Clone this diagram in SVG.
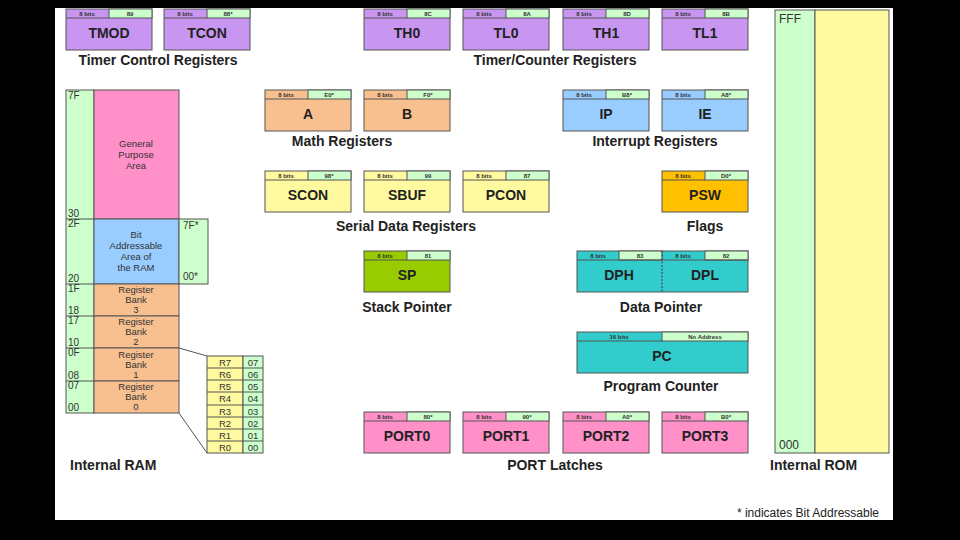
<svg xmlns="http://www.w3.org/2000/svg" width="960" height="540" viewBox="0 0 960 540">
<style>
text{font-family:"Liberation Sans",Arial,sans-serif}
.b{stroke:#555;stroke-width:1}
.h{font-size:6px;font-weight:bold;fill:#333;text-anchor:middle}
.n{font-size:14px;font-weight:bold;fill:#222;text-anchor:middle}
.l{font-size:14px;font-weight:bold;fill:#222;text-anchor:middle}
.s{font-size:10px;fill:#333}
.m{font-size:9.5px;fill:#333;text-anchor:middle}
.g{fill:#ccffcc}
.pu{fill:#c896f0}.or{fill:#f9c08f}.ye{fill:#fffaa0}.bl{fill:#99ccff}.go{fill:#ffc000}.sp{fill:#99cc00}.te{fill:#33cccc}.pk{fill:#ff90c8}
</style>
<defs>
<g id="reg"><rect class="b" x="0" y="9" width="86" height="32"/></g>
</defs>
<rect width="960" height="540" fill="#000"/>
<rect x="55" y="8" width="838" height="512" fill="#fff"/>
<g id="nodes">
<!-- helper pattern: header left, header right, body -->
<g id="TMOD"><rect class="b pu" x="66" y="9" width="86" height="41"/><rect class="b g" x="109" y="9" width="43" height="9"/><line class="b" x1="66" y1="18" x2="109" y2="18"/><text class="h" x="87" y="16">8 bits</text><text class="h" x="130" y="16">89</text><text class="n" x="109" y="38">TMOD</text></g>
<g id="TCON"><rect class="b pu" x="164" y="9" width="86" height="41"/><rect class="b g" x="207" y="9" width="43" height="9"/><line class="b" x1="164" y1="18" x2="207" y2="18"/><text class="h" x="185" y="16">8 bits</text><text class="h" x="228" y="16">88*</text><text class="n" x="207" y="38">TCON</text></g>
<g id="TH0"><rect class="b pu" x="364" y="9" width="86" height="41"/><rect class="b g" x="407" y="9" width="43" height="9"/><line class="b" x1="364" y1="18" x2="407" y2="18"/><text class="h" x="385" y="16">8 bits</text><text class="h" x="428" y="16">8C</text><text class="n" x="407" y="38">TH0</text></g>
<g id="TL0"><rect class="b pu" x="463" y="9" width="86" height="41"/><rect class="b g" x="506" y="9" width="43" height="9"/><line class="b" x1="463" y1="18" x2="506" y2="18"/><text class="h" x="484" y="16">8 bits</text><text class="h" x="527" y="16">8A</text><text class="n" x="506" y="38">TL0</text></g>
<g id="TH1"><rect class="b pu" x="563" y="9" width="86" height="41"/><rect class="b g" x="606" y="9" width="43" height="9"/><line class="b" x1="563" y1="18" x2="606" y2="18"/><text class="h" x="584" y="16">8 bits</text><text class="h" x="627" y="16">8D</text><text class="n" x="606" y="38">TH1</text></g>
<g id="TL1"><rect class="b pu" x="662" y="9" width="86" height="41"/><rect class="b g" x="705" y="9" width="43" height="9"/><line class="b" x1="662" y1="18" x2="705" y2="18"/><text class="h" x="683" y="16">8 bits</text><text class="h" x="726" y="16">8B</text><text class="n" x="705" y="38">TL1</text></g>
<text class="l" x="158" y="65">Timer Control Registers</text>
<text class="l" x="555" y="65">Timer/Counter Registers</text>

<g id="A"><rect class="b or" x="265" y="90" width="86" height="41"/><rect class="b g" x="308" y="90" width="43" height="9"/><line class="b" x1="265" y1="99" x2="308" y2="99"/><text class="h" x="286" y="97">8 bits</text><text class="h" x="329" y="97">E0*</text><text class="n" x="308" y="119">A</text></g>
<g id="B"><rect class="b or" x="364" y="90" width="86" height="41"/><rect class="b g" x="407" y="90" width="43" height="9"/><line class="b" x1="364" y1="99" x2="407" y2="99"/><text class="h" x="385" y="97">8 bits</text><text class="h" x="428" y="97">F0*</text><text class="n" x="407" y="119">B</text></g>
<g id="IP"><rect class="b bl" x="563" y="90" width="86" height="41"/><rect class="b g" x="606" y="90" width="43" height="9"/><line class="b" x1="563" y1="99" x2="606" y2="99"/><text class="h" x="584" y="97">8 bits</text><text class="h" x="627" y="97">B8*</text><text class="n" x="606" y="119">IP</text></g>
<g id="IE"><rect class="b bl" x="662" y="90" width="86" height="41"/><rect class="b g" x="705" y="90" width="43" height="9"/><line class="b" x1="662" y1="99" x2="705" y2="99"/><text class="h" x="683" y="97">8 bits</text><text class="h" x="726" y="97">A8*</text><text class="n" x="705" y="119">IE</text></g>
<text class="l" x="342" y="146">Math Registers</text>
<text class="l" x="655" y="146">Interrupt Registers</text>

<g id="SCON"><rect class="b ye" x="265" y="171" width="86" height="41"/><rect class="b g" x="308" y="171" width="43" height="9"/><line class="b" x1="265" y1="180" x2="308" y2="180"/><text class="h" x="286" y="178">8 bits</text><text class="h" x="329" y="178">98*</text><text class="n" x="308" y="200">SCON</text></g>
<g id="SBUF"><rect class="b ye" x="364" y="171" width="86" height="41"/><rect class="b g" x="407" y="171" width="43" height="9"/><line class="b" x1="364" y1="180" x2="407" y2="180"/><text class="h" x="385" y="178">8 bits</text><text class="h" x="428" y="178">99</text><text class="n" x="407" y="200">SBUF</text></g>
<g id="PCON"><rect class="b ye" x="463" y="171" width="86" height="41"/><rect class="b g" x="506" y="171" width="43" height="9"/><line class="b" x1="463" y1="180" x2="506" y2="180"/><text class="h" x="484" y="178">8 bits</text><text class="h" x="527" y="178">87</text><text class="n" x="506" y="200">PCON</text></g>
<g id="PSW"><rect class="b go" x="662" y="171" width="86" height="41"/><rect class="b g" x="705" y="171" width="43" height="9"/><line class="b" x1="662" y1="180" x2="705" y2="180"/><text class="h" x="683" y="178">8 bits</text><text class="h" x="726" y="178">D0*</text><text class="n" x="705" y="200">PSW</text></g>
<text class="l" x="406" y="231">Serial Data Registers</text>
<text class="l" x="705" y="231">Flags</text>

<g id="SP"><rect class="b sp" x="364" y="251" width="86" height="41"/><rect class="b g" x="407" y="251" width="43" height="9"/><line class="b" x1="364" y1="260" x2="407" y2="260"/><text class="h" x="385" y="258">8 bits</text><text class="h" x="428" y="258">81</text><text class="n" x="407" y="280">SP</text></g>
<g id="DPTR"><rect class="b te" x="577" y="251" width="171" height="41"/><rect class="b g" x="619" y="251" width="43" height="9"/><rect class="b g" x="705" y="251" width="43" height="9"/><line class="b" x1="577" y1="260" x2="748" y2="260"/><line x1="662" y1="251" x2="662" y2="292" stroke="#335" stroke-dasharray="2,1.5"/><text class="h" x="598" y="258">8 bits</text><text class="h" x="640" y="258">83</text><text class="h" x="683" y="258">8 bits</text><text class="h" x="726" y="258">82</text><text class="n" x="619" y="280">DPH</text><text class="n" x="705" y="280">DPL</text></g>
<text class="l" x="407" y="312">Stack Pointer</text>
<text class="l" x="661" y="312">Data Pointer</text>

<g id="PC"><rect class="b te" x="577" y="332" width="171" height="41"/><rect class="b g" x="662" y="332" width="86" height="9"/><line class="b" x1="577" y1="341" x2="662" y2="341"/><text class="h" x="619" y="339">16 bits</text><text class="h" x="705" y="339">No Address</text><text class="n" x="662" y="361">PC</text></g>
<text class="l" x="661" y="391">Program Counter</text>

<g id="PORT0"><rect class="b pk" x="364" y="412" width="86" height="41"/><rect class="b g" x="407" y="412" width="43" height="9"/><line class="b" x1="364" y1="421" x2="407" y2="421"/><text class="h" x="385" y="419">8 bits</text><text class="h" x="428" y="419">80*</text><text class="n" x="407" y="441">PORT0</text></g>
<g id="PORT1"><rect class="b pk" x="463" y="412" width="86" height="41"/><rect class="b g" x="506" y="412" width="43" height="9"/><line class="b" x1="463" y1="421" x2="506" y2="421"/><text class="h" x="484" y="419">8 bits</text><text class="h" x="527" y="419">90*</text><text class="n" x="506" y="441">PORT1</text></g>
<g id="PORT2"><rect class="b pk" x="563" y="412" width="86" height="41"/><rect class="b g" x="606" y="412" width="43" height="9"/><line class="b" x1="563" y1="421" x2="606" y2="421"/><text class="h" x="584" y="419">8 bits</text><text class="h" x="627" y="419">A0*</text><text class="n" x="606" y="441">PORT2</text></g>
<g id="PORT3"><rect class="b pk" x="662" y="412" width="86" height="41"/><rect class="b g" x="705" y="412" width="43" height="9"/><line class="b" x1="662" y1="421" x2="705" y2="421"/><text class="h" x="683" y="419">8 bits</text><text class="h" x="726" y="419">B0*</text><text class="n" x="705" y="441">PORT3</text></g>
<text class="l" x="555" y="470">PORT Latches</text>

<g id="RAM">
<rect class="b g" x="66" y="90" width="28" height="323"/>
<rect class="b pk" x="94" y="90" width="85" height="129"/>
<rect class="b bl" x="94" y="219" width="85" height="65"/>
<rect class="b g" x="179" y="219" width="29" height="65"/>
<rect class="b or" x="94" y="284" width="85" height="32"/>
<rect class="b or" x="94" y="316" width="85" height="32"/>
<rect class="b or" x="94" y="348" width="85" height="33"/>
<rect class="b or" x="94" y="381" width="85" height="32"/>
<line class="b" x1="66" y1="219" x2="94" y2="219"/>
<line class="b" x1="66" y1="284" x2="94" y2="284"/>
<line class="b" x1="66" y1="316" x2="94" y2="316"/>
<line class="b" x1="66" y1="348" x2="94" y2="348"/>
<line class="b" x1="66" y1="381" x2="94" y2="381"/>
<text class="s" x="68" y="99">7F</text><text class="s" x="68" y="217">30</text>
<text class="s" x="68" y="227">2F</text><text class="s" x="68" y="282">20</text>
<text class="s" x="68" y="292">1F</text><text class="s" x="68" y="314">18</text>
<text class="s" x="68" y="324">17</text><text class="s" x="68" y="346">10</text>
<text class="s" x="68" y="356">0F</text><text class="s" x="68" y="379">08</text>
<text class="s" x="68" y="389">07</text><text class="s" x="68" y="411">00</text>
<text class="s" x="183" y="229">7F*</text><text class="s" x="183" y="280">00*</text>
<text class="m" x="136" y="147">General</text><text class="m" x="136" y="158">Purpose</text><text class="m" x="136" y="169">Area</text>
<text class="m" x="136" y="238">Bit</text><text class="m" x="136" y="249">Addressable</text><text class="m" x="136" y="260">Area of</text><text class="m" x="136" y="271">the RAM</text>
<text class="m" x="136" y="293">Register</text><text class="m" x="136" y="303">Bank</text><text class="m" x="136" y="313">3</text>
<text class="m" x="136" y="325">Register</text><text class="m" x="136" y="335">Bank</text><text class="m" x="136" y="345">2</text>
<text class="m" x="136" y="358">Register</text><text class="m" x="136" y="368">Bank</text><text class="m" x="136" y="378">1</text>
<text class="m" x="136" y="390">Register</text><text class="m" x="136" y="400">Bank</text><text class="m" x="136" y="410">0</text>
</g>
<g id="RegList">
<rect class="b ye" x="207" y="356" width="36" height="97"/>
<rect class="b g" x="243" y="356" width="20" height="97"/>
<g class="b"><line x1="207" y1="368" x2="263" y2="368"/><line x1="207" y1="380" x2="263" y2="380"/><line x1="207" y1="392" x2="263" y2="392"/><line x1="207" y1="405" x2="263" y2="405"/><line x1="207" y1="417" x2="263" y2="417"/><line x1="207" y1="429" x2="263" y2="429"/><line x1="207" y1="441" x2="263" y2="441"/></g>
<g class="m"><text x="225" y="366">R7</text><text x="225" y="378">R6</text><text x="225" y="390">R5</text><text x="225" y="402">R4</text><text x="225" y="415">R3</text><text x="225" y="427">R2</text><text x="225" y="439">R1</text><text x="225" y="451">R0</text>
<text x="253" y="366">07</text><text x="253" y="378">06</text><text x="253" y="390">05</text><text x="253" y="402">04</text><text x="253" y="415">03</text><text x="253" y="427">02</text><text x="253" y="439">01</text><text x="253" y="451">00</text></g>
</g>
<text class="l" x="70" y="470" style="text-anchor:start">Internal RAM</text>

<g id="ROM">
<rect class="b g" x="775" y="10" width="40" height="443"/>
<rect class="b ye" x="815" y="10" width="74" height="443"/>
<text x="779" y="23" style="font-size:12px;fill:#333">FFF</text>
<text x="779" y="449" style="font-size:12px;fill:#333">000</text>
</g>
<text class="l" x="770" y="470" style="text-anchor:start">Internal ROM</text>
</g>
<g id="connectors">
<line class="b" x1="179" y1="348" x2="207" y2="356"/>
<line class="b" x1="179" y1="413" x2="207" y2="453"/>
</g>
<text x="879" y="517" style="font-size:12px;fill:#222;text-anchor:end">* indicates Bit Addressable</text>
</svg>
